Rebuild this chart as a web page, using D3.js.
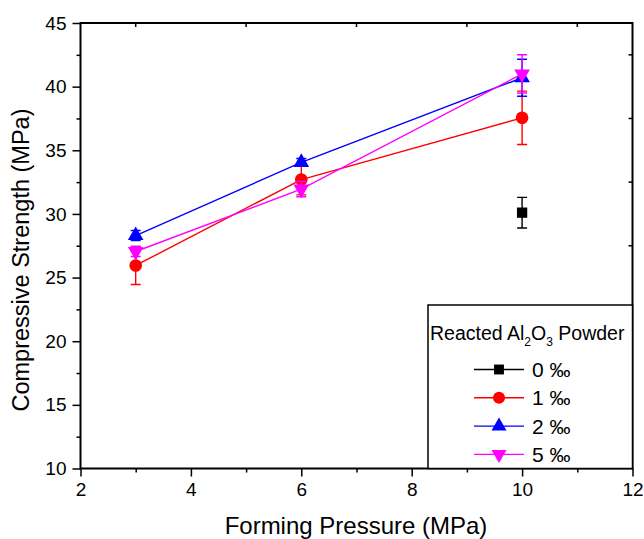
<!DOCTYPE html>
<html>
<head>
<meta charset="utf-8">
<script src="https://cdn.jsdelivr.net/npm/d3@7"></script>
<style>
  body { margin: 0; background: #fff; }
  svg text { font-family: "Liberation Sans", Arial, sans-serif; fill: #000; }
</style>
</head>
<body>
<svg id="grafico"></svg>
<script>
// data
const pressao = [3, 6, 10];
const serie0 = { nome: '0 ‰', cor: '#000000', simbolo: 'square', x: [10], y: [30.1], erro: [1.2] };
const serie1 = { nome: '1 ‰', cor: '#ff0000', simbolo: 'circle', x: pressao, y: [25.95, 32.7, 37.55], erro: [1.5, 1.2, 2.1] };
const serie2 = { nome: '2 ‰', cor: '#0000ff', simbolo: 'triangle', x: pressao, y: [28.3, 34.05, 40.7], erro: [0.4, 0.3, 1.45] };
const serie5 = { nome: '5 ‰', cor: '#ff00ff', simbolo: 'down', x: pressao, y: [27.05, 31.95, 41.0], erro: [0.4, 0.6, 1.5] };
const series = [serie0, serie1, serie2, serie5];

const xTicks = [2, 4, 6, 8, 10, 12];
const yTicks = [10, 15, 20, 25, 30, 35, 40, 45];

const largura = 644, altura = 539;
const margem = { esquerda: 80.5, direita: 11.5, superior: 23, inferior: 70.5 };

const svg = d3.select('#grafico').attr('width', largura).attr('height', altura);

const x = d3.scaleLinear().domain([2, 12]).range([margem.esquerda, largura - margem.direita]);
const y = d3.scaleLinear().domain([10, 45]).range([altura - margem.inferior, margem.superior]);

const plotagem = svg.append('g');

// minor ticks on top / right (inward)
const xMenores = d3.range(3, 12, 2);
const yMenores = d3.range(12.5, 45, 5);
plotagem.selectAll('.tmx').data(xMenores).enter().append('line')
  .attr('x1', d => x(d)).attr('x2', d => x(d))
  .attr('y1', y(45)).attr('y2', y(45) + 4)
  .attr('stroke', '#000').attr('stroke-width', 1.5);
plotagem.selectAll('.tmy').data(yMenores).enter().append('line')
  .attr('x1', x(12)).attr('x2', x(12) - 4)
  .attr('y1', d => y(d)).attr('y2', d => y(d))
  .attr('stroke', '#000').attr('stroke-width', 1.5);

// bottom axis
const eixoX = d3.axisBottom(x).tickValues(xTicks).tickSize(8).tickPadding(6).tickFormat(d3.format('d'));
const gx = svg.append('g').attr('transform', `translate(0, ${y(10)})`).call(eixoX);
gx.selectAll('text').attr('font-size', 19).attr('font-family', '"Liberation Sans", Arial, sans-serif');
gx.selectAll('.tick line').attr('stroke-width', 1.5);
gx.select('.domain').remove();
const gxm = svg.append('g').attr('transform', `translate(0, ${y(10)})`)
  .call(d3.axisBottom(x).tickValues(xMenores).tickSize(4).tickFormat(''));
gxm.select('.domain').remove();
gxm.selectAll('line').attr('stroke-width', 1.5);

// left axis
const eixoY = d3.axisLeft(y).tickValues(yTicks).tickSize(8).tickPadding(6);
const gy = svg.append('g').attr('transform', `translate(${x(2)}, 0)`).call(eixoY);
gy.selectAll('text').attr('font-size', 19).attr('font-family', '"Liberation Sans", Arial, sans-serif');
gy.selectAll('line').attr('stroke-width', 1.5);
gy.select('.domain').remove();
const gym = svg.append('g').attr('transform', `translate(${x(2)}, 0)`)
  .call(d3.axisLeft(y).tickValues(yMenores).tickSize(4).tickFormat(''));
gym.select('.domain').remove();
gym.selectAll('line').attr('stroke-width', 1.5);

// frame
svg.append('rect')
  .attr('x', x(2)).attr('y', y(45))
  .attr('width', x(12) - x(2)).attr('height', y(10) - y(45))
  .attr('fill', 'none').attr('stroke', '#000').attr('stroke-width', 2);

// axis titles
svg.append('text')
  .attr('x', 356).attr('y', 534)
  .attr('text-anchor', 'middle').attr('font-size', 24)
  .text('Forming Pressure (MPa)');
svg.append('text')
  .attr('transform', `translate(29, 260) rotate(-90)`)
  .attr('text-anchor', 'middle').attr('font-size', 23.5)
  .text('Compressive Strength (MPa)');

function simbolo(tipo, tamanho) {
  if (tipo === 'square') return d3.symbol(d3.symbolSquare, tamanho * 0.85)();
  if (tipo === 'circle') return d3.symbol(d3.symbolCircle, tamanho)();
  return d3.symbol(d3.symbolTriangle, tamanho * 0.85)();
}

const linha = d3.line().x(d => x(d[0])).y(d => y(d[1]));

series.forEach(s => {
  const pts = s.x.map((v, i) => [v, s.y[i], s.erro[i]]);
  const g = plotagem.append('g');
  // error bars
  g.selectAll('.eb').data(pts).enter().append('path')
    .attr('d', d => {
      const cx = x(d[0]), t = y(d[1] + d[2]), b = y(d[1] - d[2]);
      return `M${cx},${t}V${b}M${cx - 5},${t}H${cx + 5}M${cx - 5},${b}H${cx + 5}`;
    })
    .attr('fill', 'none').attr('stroke', s.cor).attr('stroke-width', 1.4);
  if (pts.length > 1) {
    g.append('path').datum(pts).attr('d', linha)
      .attr('fill', 'none').attr('stroke', s.cor).attr('stroke-width', 1.4);
  }
  g.selectAll('.pt').data(pts).enter().append('path')
    .attr('d', simbolo(s.simbolo, 125))
    .attr('transform', d => `translate(${x(d[0])}, ${y(d[1])})${s.simbolo === 'down' ? ' rotate(180)' : ''}`)
    .attr('fill', s.cor);
});

// legend
const leg = svg.append('g');
leg.append('rect')
  .attr('x', 428).attr('y', 305)
  .attr('width', x(12) - 428).attr('height', y(10) - 305)
  .attr('fill', '#fff').attr('stroke', '#000').attr('stroke-width', 1.5);
const titulo = leg.append('text').attr('x', 430).attr('y', 340).attr('font-size', 19.5);
titulo.append('tspan').text('Reacted Al');
titulo.append('tspan').attr('font-size', 12).attr('dy', 6).text('2');
titulo.append('tspan').attr('dy', -6).text('O');
titulo.append('tspan').attr('font-size', 12).attr('dy', 6).text('3');
titulo.append('tspan').attr('dy', -6).text(' Powder');

const linhasLeg = leg.selectAll('.item').data(series).enter().append('g')
  .attr('transform', (d, i) => `translate(0, ${369.5 + i * 28.3})`);
linhasLeg.append('line').attr('x1', 474).attr('x2', 524)
  .attr('stroke', d => d.cor).attr('stroke-width', 1.4);
linhasLeg.append('path')
  .attr('d', d => simbolo(d.simbolo, 115))
  .attr('transform', d => `translate(499, 0)${d.simbolo === 'down' ? ' rotate(180)' : ''}`)
  .attr('fill', d => d.cor);
linhasLeg.append('text').attr('x', 532).attr('y', 7.5).attr('font-size', 21)
  .text(d => d.nome);
</script>
</body>
</html>
